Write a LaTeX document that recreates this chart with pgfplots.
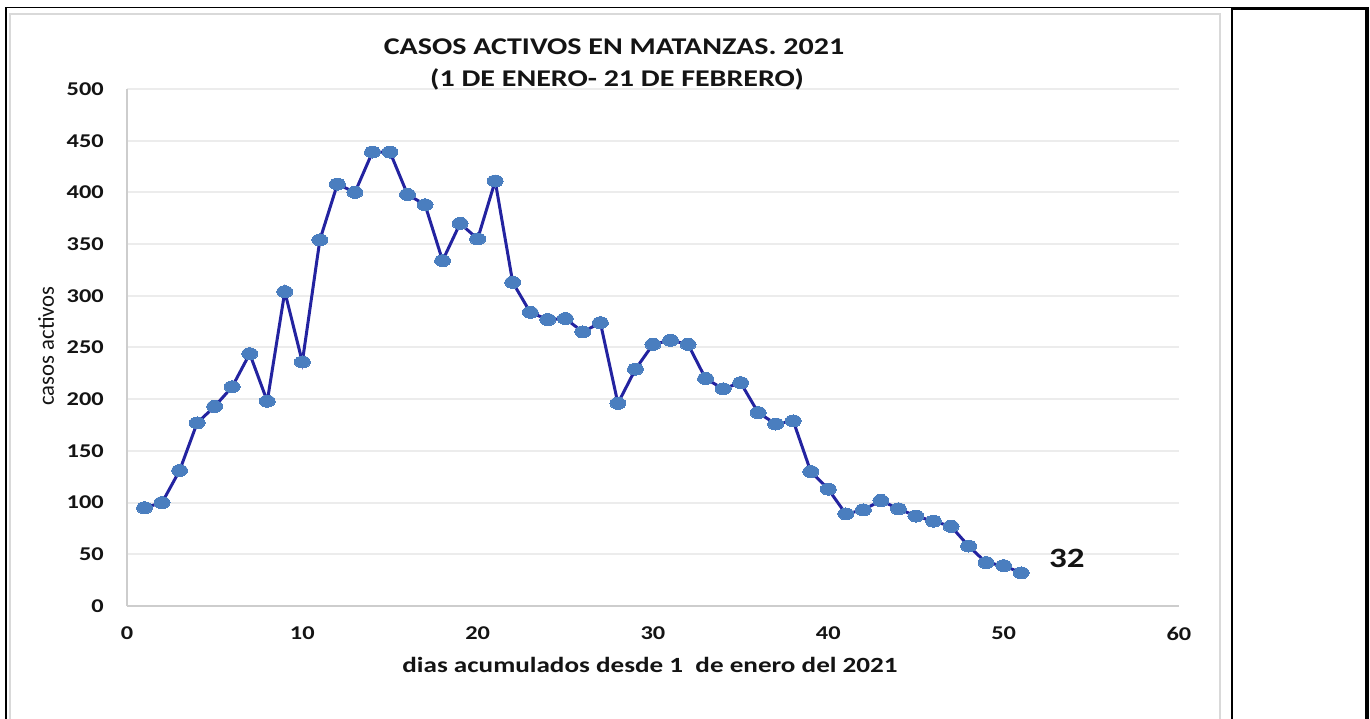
\documentclass[border=0pt]{standalone}
\usepackage{fontspec}
\setmainfont{Carlito}[FakeStretch=1.25]
\newfontfamily\plainfont{Carlito}
\usepackage{pgfplots}
\usepackage{pgfplotstable}
\pgfplotsset{compat=1.18}
\definecolor{linecol}{RGB}{35,35,160}
\definecolor{markcol}{RGB}{74,126,191}
\definecolor{gridcol}{RGB}{236,236,236}
\definecolor{axcol}{RGB}{205,205,205}
\definecolor{txt}{RGB}{20,20,20}
\pgfplotstableread{
x y
1 95
2 100
3 131
4 177
5 193
6 212
7 244
8 198
9 304
10 236
11 354
12 408
13 400
14 439
15 439
16 398
17 388
18 334
19 370
20 355
21 411
22 313
23 284
24 277
25 278
26 265
27 274
28 196
29 229
30 253
31 257
32 253
33 220
34 210
35 216
36 187
37 176
38 179
39 130
40 113
41 89
42 93
43 102
44 94
45 87
46 82
47 77
48 58
49 42
50 39
51 32
}\datatable
\begin{document}
\begin{tikzpicture}[x=1pt,y=1pt]
\path[use as bounding box, fill=white] (0,0) rectangle (1370,719);
\draw[line width=2pt, color=black!15] (10,0) -- (10,705) -- (1220,705) -- (1220,0);
\draw[black, line width=1.5pt] (6,0) -- (6,711.5) -- (1232,711.5);
\draw[black, line width=1.5pt] (1232,0) -- (1232,711.5);
\draw[black, line width=3pt] (1232,710.5) -- (1369,710.5);
\draw[black, line width=4pt] (1367,0) -- (1367,712);
\begin{axis}[
  at={(127pt,113pt)}, anchor=south west,
  scale only axis, width=1052pt, height=517pt,
  xmin=0, xmax=60, ymin=0, ymax=500,
  xtick={0,10,...,60}, ytick={0,50,...,500},
  ymajorgrids, grid style={gridcol, line width=2pt},
  axis x line*=bottom, axis y line*=left,
  axis line style={axcol, line width=2pt},
  major tick length=0pt,
  /pgf/number format/assume math mode=true,
  ticklabel style={font=\bfseries\fontsize{19.5}{19.5}\selectfont, text=txt, inner sep=0pt},
  yticklabel style={anchor=east, xshift=-23pt},
  xticklabel style={anchor=north, yshift=-21pt},
  clip=false,
]
\addplot[color=linecol, line width=3pt, mark=*, mark size=6pt,
  mark options={fill=markcol, draw=markcol, line width=0pt, xscale=1.33}]
  table[x=x, y=y] {\datatable};
\node[font=\bfseries\fontsize{28}{28}\selectfont, text=txt] at (axis cs:53.6,46) {32};
\end{axis}
\node[font=\bfseries\fontsize{24}{24}\selectfont, text=txt, anchor=base, inner sep=0pt] at (614,664) {CASOS ACTIVOS EN MATANZAS. 2021};
\node[font=\bfseries\fontsize{24}{24}\selectfont, text=txt, anchor=base, inner sep=0pt] at (617,632) {(1 DE ENERO- 21 DE FEBRERO)};
\node[font=\bfseries\fontsize{21.7}{21.7}\selectfont, text=txt, anchor=base, inner sep=0pt] at (650,46) {dias acumulados desde 1\ \ de enero del 2021};
\node[font=\plainfont\fontsize{22.7}{22.7}\selectfont, text=txt, rotate=90, inner sep=0pt] at (46,373) {casos activos};
\end{tikzpicture}
\end{document}
